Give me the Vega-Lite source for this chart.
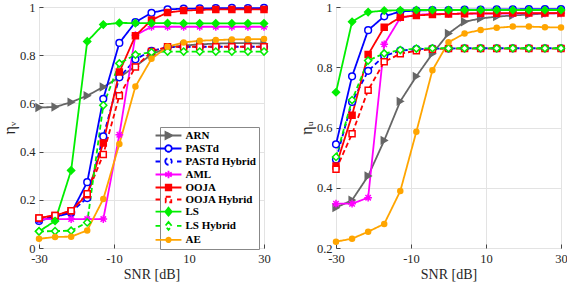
{
  "$schema": "https://vega.github.io/schema/vega-lite/v6.json",
  "background": "white",
  "padding": {"left": 0, "top": 0, "right": 6, "bottom": 2},
  "spacing": 72,
  "bounds": "flush",
  "config": {
    "view": {"stroke": "#444444", "strokeWidth": 1},
    "font": "Liberation Serif",
    "axis": {
      "labelFont": "Liberation Serif", "labelFontSize": 12.5, "labelColor": "#262626",
      "titleFont": "Liberation Serif", "titleFontWeight": "normal", "titleColor": "#262626",
      "gridColor": "#e3e3e3", "gridWidth": 1, "domain": false, "labelOverlap": false, "labelFlush": false,
      "tickColor": "#444444", "tickSize": -4, "labelPadding": 8
    },
    "legend": {
      "orient": "none", "legendX": 121, "legendY": 120, "title": null, "direction": "vertical",
      "labelFont": "Liberation Serif", "labelFontWeight": "bold", "labelFontSize": 11, "labelColor": "#000000",
      "symbolSize": 49, "labelOffset": 11.5, "rowPadding": -2.8, "padding": 3, "symbolOpacity": 1,
      "fillColor": "white", "strokeColor": "#888888", "symbolStrokeWidth": 1.8
    }
  },
  "resolve": {"legend": {"color": "independent", "shape": "independent", "strokeDash": "independent", "fill": "independent"}},
  "datasets": {
    "d": [
      {"series": "ARN", "snr": -30, "v": 0.583, "u": 0.334},
      {"series": "ARN", "snr": -25.714, "v": 0.585, "u": 0.359},
      {"series": "ARN", "snr": -21.429, "v": 0.605, "u": 0.439},
      {"series": "ARN", "snr": -17.143, "v": 0.632, "u": 0.557},
      {"series": "ARN", "snr": -12.857, "v": 0.668, "u": 0.687},
      {"series": "ARN", "snr": -8.571, "v": 0.708, "u": 0.77},
      {"series": "ARN", "snr": -4.286, "v": 0.754, "u": 0.845},
      {"series": "ARN", "snr": 0, "v": 0.803, "u": 0.912},
      {"series": "ARN", "snr": 4.286, "v": 0.832, "u": 0.951},
      {"series": "ARN", "snr": 8.571, "v": 0.84, "u": 0.962},
      {"series": "ARN", "snr": 12.857, "v": 0.845, "u": 0.968},
      {"series": "ARN", "snr": 17.143, "v": 0.848, "u": 0.972},
      {"series": "ARN", "snr": 21.429, "v": 0.85, "u": 0.975},
      {"series": "ARN", "snr": 25.714, "v": 0.85, "u": 0.978},
      {"series": "ARN", "snr": 30, "v": 0.848, "u": 0.98},

      {"series": "PASTd", "snr": -30, "v": 0.112, "u": 0.544},
      {"series": "PASTd", "snr": -25.714, "v": 0.13, "u": 0.77},
      {"series": "PASTd", "snr": -21.429, "v": 0.145, "u": 0.923},
      {"series": "PASTd", "snr": -17.143, "v": 0.273, "u": 0.969},
      {"series": "PASTd", "snr": -12.857, "v": 0.619, "u": 0.985},
      {"series": "PASTd", "snr": -8.571, "v": 0.851, "u": 0.988},
      {"series": "PASTd", "snr": -4.286, "v": 0.937, "u": 0.99},
      {"series": "PASTd", "snr": 0, "v": 0.976, "u": 0.99},
      {"series": "PASTd", "snr": 4.286, "v": 0.99, "u": 0.991},
      {"series": "PASTd", "snr": 8.571, "v": 0.993, "u": 0.991},
      {"series": "PASTd", "snr": 12.857, "v": 0.994, "u": 0.992},
      {"series": "PASTd", "snr": 17.143, "v": 0.995, "u": 0.992},
      {"series": "PASTd", "snr": 21.429, "v": 0.996, "u": 0.993},
      {"series": "PASTd", "snr": 25.714, "v": 0.995, "u": 0.993},
      {"series": "PASTd", "snr": 30, "v": 0.996, "u": 0.993},

      {"series": "PASTd Hybrid", "snr": -30, "v": 0.12, "u": 0.494},
      {"series": "PASTd Hybrid", "snr": -25.714, "v": 0.13, "u": 0.685},
      {"series": "PASTd Hybrid", "snr": -21.429, "v": 0.15, "u": 0.788},
      {"series": "PASTd Hybrid", "snr": -17.143, "v": 0.207, "u": 0.838},
      {"series": "PASTd Hybrid", "snr": -12.857, "v": 0.463, "u": 0.855},
      {"series": "PASTd Hybrid", "snr": -8.571, "v": 0.708, "u": 0.86},
      {"series": "PASTd Hybrid", "snr": -4.286, "v": 0.783, "u": 0.862},
      {"series": "PASTd Hybrid", "snr": 0, "v": 0.818, "u": 0.862},
      {"series": "PASTd Hybrid", "snr": 4.286, "v": 0.833, "u": 0.863},
      {"series": "PASTd Hybrid", "snr": 8.571, "v": 0.834, "u": 0.863},
      {"series": "PASTd Hybrid", "snr": 12.857, "v": 0.835, "u": 0.863},
      {"series": "PASTd Hybrid", "snr": 17.143, "v": 0.835, "u": 0.863},
      {"series": "PASTd Hybrid", "snr": 21.429, "v": 0.835, "u": 0.863},
      {"series": "PASTd Hybrid", "snr": 25.714, "v": 0.835, "u": 0.863},
      {"series": "PASTd Hybrid", "snr": 30, "v": 0.835, "u": 0.863},

      {"series": "AML", "snr": -30, "v": 0.12, "u": 0.347},
      {"series": "AML", "snr": -25.714, "v": 0.12, "u": 0.347},
      {"series": "AML", "snr": -21.429, "v": 0.12, "u": 0.367},
      {"series": "AML", "snr": -17.143, "v": 0.12, "u": 0.876},
      {"series": "AML", "snr": -12.857, "v": 0.12, "u": 0.964},
      {"series": "AML", "snr": -8.571, "v": 0.47, "u": 0.974},
      {"series": "AML", "snr": -4.286, "v": 0.883, "u": 0.977},
      {"series": "AML", "snr": 0, "v": 0.918, "u": 0.977},
      {"series": "AML", "snr": 4.286, "v": 0.918, "u": 0.978},
      {"series": "AML", "snr": 8.571, "v": 0.918, "u": 0.978},
      {"series": "AML", "snr": 12.857, "v": 0.918, "u": 0.978},
      {"series": "AML", "snr": 17.143, "v": 0.918, "u": 0.978},
      {"series": "AML", "snr": 21.429, "v": 0.918, "u": 0.979},
      {"series": "AML", "snr": 25.714, "v": 0.918, "u": 0.979},
      {"series": "AML", "snr": 30, "v": 0.918, "u": 0.979},

      {"series": "OOJA", "snr": -30, "v": 0.125, "u": 0.472},
      {"series": "OOJA", "snr": -25.714, "v": 0.135, "u": 0.641},
      {"series": "OOJA", "snr": -21.429, "v": 0.155, "u": 0.842},
      {"series": "OOJA", "snr": -17.143, "v": 0.221, "u": 0.933},
      {"series": "OOJA", "snr": -12.857, "v": 0.436, "u": 0.966},
      {"series": "OOJA", "snr": -8.571, "v": 0.73, "u": 0.972},
      {"series": "OOJA", "snr": -4.286, "v": 0.881, "u": 0.975},
      {"series": "OOJA", "snr": 0, "v": 0.946, "u": 0.977},
      {"series": "OOJA", "snr": 4.286, "v": 0.977, "u": 0.978},
      {"series": "OOJA", "snr": 8.571, "v": 0.985, "u": 0.979},
      {"series": "OOJA", "snr": 12.857, "v": 0.988, "u": 0.979},
      {"series": "OOJA", "snr": 17.143, "v": 0.99, "u": 0.98},
      {"series": "OOJA", "snr": 21.429, "v": 0.99, "u": 0.98},
      {"series": "OOJA", "snr": 25.714, "v": 0.99, "u": 0.98},
      {"series": "OOJA", "snr": 30, "v": 0.99, "u": 0.98},

      {"series": "OOJA Hybrid", "snr": -30, "v": 0.125, "u": 0.461},
      {"series": "OOJA Hybrid", "snr": -25.714, "v": 0.135, "u": 0.579},
      {"series": "OOJA Hybrid", "snr": -21.429, "v": 0.155, "u": 0.724},
      {"series": "OOJA Hybrid", "snr": -17.143, "v": 0.225, "u": 0.818},
      {"series": "OOJA Hybrid", "snr": -12.857, "v": 0.388, "u": 0.845},
      {"series": "OOJA Hybrid", "snr": -8.571, "v": 0.632, "u": 0.855},
      {"series": "OOJA Hybrid", "snr": -4.286, "v": 0.751, "u": 0.86},
      {"series": "OOJA Hybrid", "snr": 0, "v": 0.815, "u": 0.862},
      {"series": "OOJA Hybrid", "snr": 4.286, "v": 0.835, "u": 0.862},
      {"series": "OOJA Hybrid", "snr": 8.571, "v": 0.835, "u": 0.862},
      {"series": "OOJA Hybrid", "snr": 12.857, "v": 0.835, "u": 0.862},
      {"series": "OOJA Hybrid", "snr": 17.143, "v": 0.835, "u": 0.862},
      {"series": "OOJA Hybrid", "snr": 21.429, "v": 0.835, "u": 0.862},
      {"series": "OOJA Hybrid", "snr": 25.714, "v": 0.835, "u": 0.862},
      {"series": "OOJA Hybrid", "snr": 30, "v": 0.835, "u": 0.862},

      {"series": "LS", "snr": -30, "v": 0.069, "u": 0.717},
      {"series": "LS", "snr": -25.714, "v": 0.112, "u": 0.951},
      {"series": "LS", "snr": -21.429, "v": 0.322, "u": 0.983},
      {"series": "LS", "snr": -17.143, "v": 0.857, "u": 0.988},
      {"series": "LS", "snr": -12.857, "v": 0.927, "u": 0.989},
      {"series": "LS", "snr": -8.571, "v": 0.934, "u": 0.99},
      {"series": "LS", "snr": -4.286, "v": 0.933, "u": 0.99},
      {"series": "LS", "snr": 0, "v": 0.933, "u": 0.99},
      {"series": "LS", "snr": 4.286, "v": 0.933, "u": 0.99},
      {"series": "LS", "snr": 8.571, "v": 0.932, "u": 0.99},
      {"series": "LS", "snr": 12.857, "v": 0.932, "u": 0.99},
      {"series": "LS", "snr": 17.143, "v": 0.932, "u": 0.99},
      {"series": "LS", "snr": 21.429, "v": 0.932, "u": 0.99},
      {"series": "LS", "snr": 25.714, "v": 0.932, "u": 0.99},
      {"series": "LS", "snr": 30, "v": 0.932, "u": 0.99},

      {"series": "LS Hybrid", "snr": -30, "v": 0.069, "u": 0.502},
      {"series": "LS Hybrid", "snr": -25.714, "v": 0.07, "u": 0.691},
      {"series": "LS Hybrid", "snr": -21.429, "v": 0.072, "u": 0.822},
      {"series": "LS Hybrid", "snr": -17.143, "v": 0.106, "u": 0.846},
      {"series": "LS Hybrid", "snr": -12.857, "v": 0.592, "u": 0.857},
      {"series": "LS Hybrid", "snr": -8.571, "v": 0.766, "u": 0.862},
      {"series": "LS Hybrid", "snr": -4.286, "v": 0.802, "u": 0.863},
      {"series": "LS Hybrid", "snr": 0, "v": 0.812, "u": 0.863},
      {"series": "LS Hybrid", "snr": 4.286, "v": 0.815, "u": 0.863},
      {"series": "LS Hybrid", "snr": 8.571, "v": 0.815, "u": 0.863},
      {"series": "LS Hybrid", "snr": 12.857, "v": 0.815, "u": 0.863},
      {"series": "LS Hybrid", "snr": 17.143, "v": 0.815, "u": 0.863},
      {"series": "LS Hybrid", "snr": 21.429, "v": 0.815, "u": 0.863},
      {"series": "LS Hybrid", "snr": 25.714, "v": 0.815, "u": 0.863},
      {"series": "LS Hybrid", "snr": 30, "v": 0.815, "u": 0.863},

      {"series": "AE", "snr": -30, "v": 0.038, "u": 0.221},
      {"series": "AE", "snr": -25.714, "v": 0.046, "u": 0.231},
      {"series": "AE", "snr": -21.429, "v": 0.047, "u": 0.254},
      {"series": "AE", "snr": -17.143, "v": 0.073, "u": 0.28},
      {"series": "AE", "snr": -12.857, "v": 0.203, "u": 0.389},
      {"series": "AE", "snr": -8.571, "v": 0.432, "u": 0.586},
      {"series": "AE", "snr": -4.286, "v": 0.67, "u": 0.79},
      {"series": "AE", "snr": 0, "v": 0.785, "u": 0.883},
      {"series": "AE", "snr": 4.286, "v": 0.835, "u": 0.912},
      {"series": "AE", "snr": 8.571, "v": 0.853, "u": 0.924},
      {"series": "AE", "snr": 12.857, "v": 0.86, "u": 0.931},
      {"series": "AE", "snr": 17.143, "v": 0.863, "u": 0.935},
      {"series": "AE", "snr": 21.429, "v": 0.865, "u": 0.935},
      {"series": "AE", "snr": 25.714, "v": 0.866, "u": 0.933},
      {"series": "AE", "snr": 30, "v": 0.867, "u": 0.932}
    ]
  },
  "hconcat": [
    {
      "width": 225, "height": 241,
      "data": {"name": "d"},
      "layer": [
        {
          "transform": [{"filter": "false"}],
          "mark": {"type": "point", "filled": false, "opacity": 1, "strokeWidth": 1.8},
          "encoding": {
            "x": {"field": "snr", "type": "quantitative", "scale": {"domain": [-30, 30], "nice": false},
                  "axis": {"values": [-30, -20, -10, 0, 10, 20, 30], "labelExpr": "'' + datum.value", "title": "SNR [dB]", "titleFontSize": 14, "titlePadding": 3, "labelOverlap": false, "labelFlush": false}},
            "y": {"field": "v", "type": "quantitative", "scale": {"domain": [0, 1], "nice": false},
                  "axis": {"values": [0, 0.2, 0.4, 0.6, 0.8, 1], "labelExpr": "'' + datum.value", "title": "ηᵥ", "titleFontSize": 16, "titlePadding": 2, "labelOverlap": false}},
            "color": {"field": "series", "type": "nominal",
                      "scale": {"domain": ["ARN", "PASTd", "PASTd Hybrid", "AML", "OOJA", "OOJA Hybrid", "LS", "LS Hybrid", "AE"],
                                "range": ["#666666", "#0000ff", "#0000ff", "#ff00ff", "#ff0000", "#ff0000", "#00ee00", "#00ee00", "#ffa500"]},
                      "legend": {"orient": "none", "legendX": 121, "legendY": 120, "title": null, "symbolSize": 49, "labelOffset": 11.5, "rowPadding": -2.8, "padding": 3}},
            "fill": {"field": "series", "type": "nominal",
                     "scale": {"domain": ["ARN", "PASTd", "PASTd Hybrid", "AML", "OOJA", "OOJA Hybrid", "LS", "LS Hybrid", "AE"],
                               "range": ["#666666", "#ffffff", "#ffffff", "#ff00ff", "#ff0000", "#ffffff", "#00ee00", "#ffffff", "#ffa500"]},
                     "legend": {"orient": "none", "legendX": 121, "legendY": 120, "title": null, "symbolSize": 49, "labelOffset": 11.5, "rowPadding": -2.8, "padding": 3}},
            "shape": {"field": "series", "type": "nominal",
                      "scale": {"domain": ["ARN", "PASTd", "PASTd Hybrid", "AML", "OOJA", "OOJA Hybrid", "LS", "LS Hybrid", "AE"],
                                "range": [
                                  "M-3.7,0H3.7M-0.86,-1L1.14,0L-0.86,1Z",
                                  "M-3.7,0H-0.93M0.93,0H3.7M-0.93,0A0.93,0.93 0 1,0 0.93,0A0.93,0.93 0 1,0 -0.93,0Z",
                                  "M-3.7,0H-2.43M2.43,0H3.7M-0.93,0A0.93,0.93 0 1,0 0.93,0A0.93,0.93 0 1,0 -0.93,0Z",
                                  "M-3.7,0H3.7M0,-1.07V1.07M-0.93,-0.57L0.93,0.57M-0.93,0.57L0.93,-0.57",
                                  "M-3.7,0H3.7M-0.79,-0.79H0.79V0.79H-0.79Z",
                                  "M-3.7,0H-2.43M2.43,0H3.7M-0.79,-0.79H0.79V0.79H-0.79Z",
                                  "M-3.7,0H3.7M0,-1.14L0.93,0L0,1.14L-0.93,0Z",
                                  "M-3.7,0H-2.43M2.43,0H3.7M0,-1.14L0.93,0L0,1.14L-0.93,0Z",
                                  "M-3.7,0H3.7M-0.64,0A0.64,0.64 0 1,0 0.64,0A0.64,0.64 0 1,0 -0.64,0Z"
                                ]},
                      "legend": {"orient": "none", "legendX": 121, "legendY": 120, "title": null, "symbolSize": 49, "labelOffset": 11.5, "rowPadding": -2.8, "padding": 3}}
          }
        },
        {
          "mark": {"type": "line", "strokeWidth": 1.8},
          "encoding": {
            "x": {"field": "snr", "type": "quantitative"},
            "y": {"field": "v", "type": "quantitative"},
            "color": {"field": "series", "type": "nominal", "legend": null},
            "strokeDash": {"field": "series", "type": "nominal",
                           "scale": {"domain": ["ARN", "PASTd", "PASTd Hybrid", "AML", "OOJA", "OOJA Hybrid", "LS", "LS Hybrid", "AE"],
                                     "range": [[1, 0], [1, 0], [5, 3], [1, 0], [1, 0], [5, 3], [1, 0], [5, 3], [1, 0]]},
                           "legend": null}
          }
        },
        {
          "transform": [{"filter": {"field": "series", "equal": "ARN"}}],
          "mark": {"type": "point", "shape": "triangle-right", "size": 45, "filled": false, "opacity": 1, "strokeWidth": 1.5},
          "encoding": {
            "x": {"field": "snr", "type": "quantitative"}, "y": {"field": "v", "type": "quantitative"},
            "color": {"field": "series", "type": "nominal", "legend": null},
            "fill": {"field": "series", "type": "nominal", "legend": null}
          }
        },
        {
          "transform": [{"filter": {"field": "series", "oneOf": ["PASTd", "PASTd Hybrid"]}}],
          "mark": {"type": "point", "shape": "circle", "size": 45, "filled": false, "opacity": 1, "strokeWidth": 1.5},
          "encoding": {
            "x": {"field": "snr", "type": "quantitative"}, "y": {"field": "v", "type": "quantitative"},
            "color": {"field": "series", "type": "nominal", "legend": null},
            "fill": {"field": "series", "type": "nominal", "legend": null}
          }
        },
        {
          "transform": [{"filter": {"field": "series", "equal": "AML"}}],
          "mark": {"type": "point", "shape": "M-1,0H1M0,-1V1M-0.7,-0.7L0.7,0.7M-0.7,0.7L0.7,-0.7", "size": 60, "filled": false, "opacity": 1, "strokeWidth": 1.5},
          "encoding": {
            "x": {"field": "snr", "type": "quantitative"}, "y": {"field": "v", "type": "quantitative"},
            "color": {"field": "series", "type": "nominal", "legend": null}
          }
        },
        {
          "transform": [{"filter": {"field": "series", "oneOf": ["OOJA", "OOJA Hybrid"]}}],
          "mark": {"type": "point", "shape": "square", "size": 36, "filled": false, "opacity": 1, "strokeWidth": 1.5},
          "encoding": {
            "x": {"field": "snr", "type": "quantitative"}, "y": {"field": "v", "type": "quantitative"},
            "color": {"field": "series", "type": "nominal", "legend": null},
            "fill": {"field": "series", "type": "nominal", "legend": null}
          }
        },
        {
          "transform": [{"filter": {"field": "series", "oneOf": ["LS", "LS Hybrid"]}}],
          "mark": {"type": "point", "shape": "diamond", "size": 50, "filled": false, "opacity": 1, "strokeWidth": 1.5},
          "encoding": {
            "x": {"field": "snr", "type": "quantitative"}, "y": {"field": "v", "type": "quantitative"},
            "color": {"field": "series", "type": "nominal", "legend": null},
            "fill": {"field": "series", "type": "nominal", "legend": null}
          }
        },
        {
          "transform": [{"filter": {"field": "series", "equal": "AE"}}],
          "mark": {"type": "point", "shape": "circle", "size": 25, "filled": false, "opacity": 1, "strokeWidth": 1.5},
          "encoding": {
            "x": {"field": "snr", "type": "quantitative"}, "y": {"field": "v", "type": "quantitative"},
            "color": {"field": "series", "type": "nominal", "legend": null},
            "fill": {"field": "series", "type": "nominal", "legend": null}
          }
        }
      ]
    },
    {
      "width": 225, "height": 241,
      "data": {"name": "d"},
      "layer": [
        {
          "mark": {"type": "line", "strokeWidth": 1.8},
          "encoding": {
            "x": {"field": "snr", "type": "quantitative", "scale": {"domain": [-30, 30], "nice": false},
                  "axis": {"values": [-30, -20, -10, 0, 10, 20, 30], "labelExpr": "'' + datum.value", "title": "SNR [dB]", "titleFontSize": 14, "titlePadding": 3, "labelOverlap": false, "labelFlush": false}},
            "y": {"field": "u", "type": "quantitative", "scale": {"domain": [0.2, 1], "nice": false},
                  "axis": {"values": [0.2, 0.3, 0.4, 0.5, 0.6, 0.7, 0.8, 0.9, 1], "labelExpr": "'' + datum.value", "title": "ηᵤ", "titleFontSize": 16, "titlePadding": 2, "labelOverlap": false}},
            "color": {"field": "series", "type": "nominal", "legend": null},
            "strokeDash": {"field": "series", "type": "nominal", "legend": null}
          }
        },
        {
          "transform": [{"filter": {"field": "series", "equal": "ARN"}}],
          "mark": {"type": "point", "shape": "triangle-right", "size": 45, "filled": false, "opacity": 1, "strokeWidth": 1.5},
          "encoding": {
            "x": {"field": "snr", "type": "quantitative"}, "y": {"field": "u", "type": "quantitative"},
            "color": {"field": "series", "type": "nominal", "legend": null},
            "fill": {"field": "series", "type": "nominal", "legend": null}
          }
        },
        {
          "transform": [{"filter": {"field": "series", "oneOf": ["PASTd", "PASTd Hybrid"]}}],
          "mark": {"type": "point", "shape": "circle", "size": 45, "filled": false, "opacity": 1, "strokeWidth": 1.5},
          "encoding": {
            "x": {"field": "snr", "type": "quantitative"}, "y": {"field": "u", "type": "quantitative"},
            "color": {"field": "series", "type": "nominal", "legend": null},
            "fill": {"field": "series", "type": "nominal", "legend": null}
          }
        },
        {
          "transform": [{"filter": {"field": "series", "equal": "AML"}}],
          "mark": {"type": "point", "shape": "M-1,0H1M0,-1V1M-0.7,-0.7L0.7,0.7M-0.7,0.7L0.7,-0.7", "size": 60, "filled": false, "opacity": 1, "strokeWidth": 1.5},
          "encoding": {
            "x": {"field": "snr", "type": "quantitative"}, "y": {"field": "u", "type": "quantitative"},
            "color": {"field": "series", "type": "nominal", "legend": null}
          }
        },
        {
          "transform": [{"filter": {"field": "series", "oneOf": ["OOJA", "OOJA Hybrid"]}}],
          "mark": {"type": "point", "shape": "square", "size": 36, "filled": false, "opacity": 1, "strokeWidth": 1.5},
          "encoding": {
            "x": {"field": "snr", "type": "quantitative"}, "y": {"field": "u", "type": "quantitative"},
            "color": {"field": "series", "type": "nominal", "legend": null},
            "fill": {"field": "series", "type": "nominal", "legend": null}
          }
        },
        {
          "transform": [{"filter": {"field": "series", "oneOf": ["LS", "LS Hybrid"]}}],
          "mark": {"type": "point", "shape": "diamond", "size": 50, "filled": false, "opacity": 1, "strokeWidth": 1.5},
          "encoding": {
            "x": {"field": "snr", "type": "quantitative"}, "y": {"field": "u", "type": "quantitative"},
            "color": {"field": "series", "type": "nominal", "legend": null},
            "fill": {"field": "series", "type": "nominal", "legend": null}
          }
        },
        {
          "transform": [{"filter": {"field": "series", "equal": "AE"}}],
          "mark": {"type": "point", "shape": "circle", "size": 25, "filled": false, "opacity": 1, "strokeWidth": 1.5},
          "encoding": {
            "x": {"field": "snr", "type": "quantitative"}, "y": {"field": "u", "type": "quantitative"},
            "color": {"field": "series", "type": "nominal", "legend": null},
            "fill": {"field": "series", "type": "nominal", "legend": null}
          }
        }
      ]
    }
  ]
}
